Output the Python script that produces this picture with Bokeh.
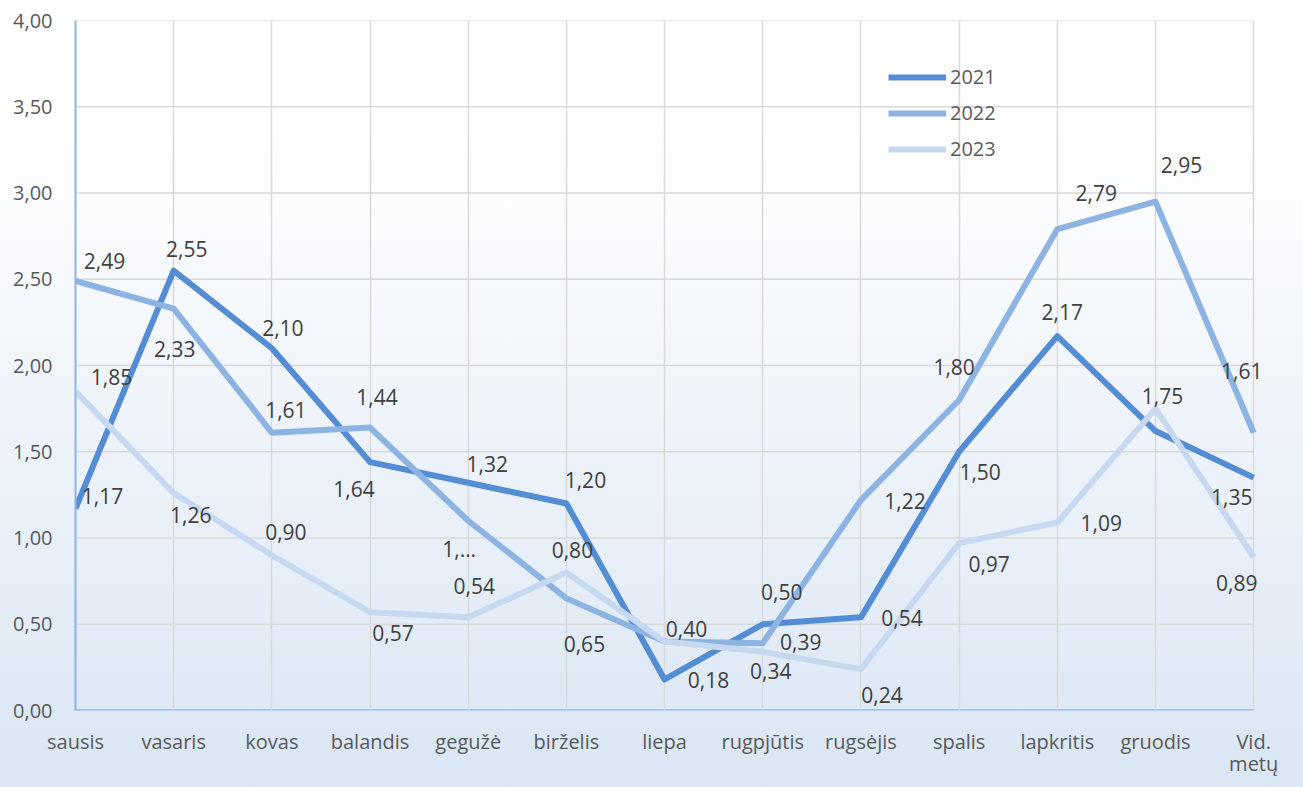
from bokeh.plotting import figure
from bokeh.models import (Range1d, FixedTicker, CustomJSTickFormatter, ColumnDataSource,
                          Legend, LegendItem, Label)
from bokeh.embed import file_html
from bokeh.resources import INLINE

# ---------------- data ----------------
months = ["sausis", "vasaris", "kovas", "balandis", "gegužė", "birželis", "liepa",
          "rugpjūtis", "rugsėjis", "spalis", "lapkritis", "gruodis", "Vid.\nmetų"]
series_names = ["2021", "2022", "2023"]
s2021 = [1.17, 2.55, 2.10, 1.44, 1.32, 1.20, 0.18, 0.50, 0.54, 1.50, 2.17, 1.62, 1.35]
s2022 = [2.49, 2.33, 1.61, 1.64, 1.10, 0.65, 0.40, 0.39, 1.22, 1.80, 2.79, 2.95, 1.61]
s2023 = [1.85, 1.26, 0.90, 0.57, 0.54, 0.80, 0.40, 0.34, 0.24, 0.97, 1.09, 1.75, 0.89]
lbl2021 = ["1,17", "2,55", "2,10", "1,44", "1,32", "1,20", "0,18", "0,50", "0,54", "1,50", "2,17", "", "1,35"]
lbl2022 = ["2,49", "2,33", "1,61", "1,64", "1,…", "0,65", "", "0,39", "1,22", "1,80", "2,79", "2,95", "1,61"]
lbl2023 = ["1,85", "1,26", "0,90", "0,57", "0,54", "0,80", "0,40", "0,34", "0,24", "0,97", "1,09", "1,75", "0,89"]
y_ticks = [0.0, 0.5, 1.0, 1.5, 2.0, 2.5, 3.0, 3.5, 4.0]

# ---------------- styles (label placement in screen px, +dy = downwards) ----------------
off2021 = [(27, -13), (13, -22), (11, -20), (7, -65), (19, -19), (19, -24), (44, 1),
           (19, -32), (41, 1), (21, 20), (5, -24), (0, 0), (-22, 19)]
off2022 = [(29, -20), (1, 40), (14, -23), (-16, 61), (-9, 28), (18, 46), (0, 0),
           (38, -1), (44, 1), (-5, -33), (39, -36), (26, -37), (-12, -62)]
off2023 = [(36, -14), (17, 22), (14, -23), (23, 21), (6, -31), (6, -23), (22, -13),
           (8, 19), (21, 26), (30, 21), (44, 1), (7, -13), (-17, 26)]
colors = ["#548dd4", "#8db3e2", "#c6d9f1"]
FONT = "Open Sans"
GRID = "#d9d9d9"
AXIS = "#8eb4e3"

xs = list(range(len(months)))
# a little extra room to the right of the last category so that labels are not cut off
p = figure(frame_width=1188, frame_height=690, output_backend="svg", toolbar_location=None,
           x_range=Range1d(xs[0], xs[-1] + 0.1), y_range=Range1d(y_ticks[0], y_ticks[-1]),
           min_border_left=75, min_border_right=40, min_border_top=20, min_border_bottom=77)
p.background_fill_color = None
p.border_fill_color = None
p.outline_line_color = None
p.styles = {"background": "linear-gradient(180deg, #ffffff 0%, #ffffff 16%, #dae6f4 100%)"}

p.xaxis.ticker = FixedTicker(ticks=xs)
p.xaxis.major_label_overrides = {i: m for i, m in enumerate(months)}
p.yaxis.ticker = FixedTicker(ticks=y_ticks)
p.yaxis.formatter = CustomJSTickFormatter(code="return tick.toFixed(2).replace('.', ',');")

for ax in (p.xaxis[0], p.yaxis[0]):
    ax.axis_line_color = AXIS
    ax.axis_line_width = 2
    ax.major_tick_line_color = None
    ax.minor_tick_line_color = None
    ax.major_label_text_font = FONT
    ax.major_label_text_font_size = "20px"
    ax.major_label_text_color = "#595959"
p.xaxis.axis_line_color = None
p.xaxis.major_label_standoff = 11
p.xaxis.major_label_text_line_height = 0.85
p.yaxis.major_label_standoff = 17

p.xgrid.grid_line_color = GRID
p.xgrid.grid_line_width = 1.5
p.ygrid.visible = False
# horizontal gridlines and the category axis line, spanning first..last category
p.segment(x0=xs[0], x1=xs[-1], y0=y_ticks[1:], y1=y_ticks[1:], line_color=GRID,
          line_width=1.5, level="underlay")
p.segment(x0=xs[0], x1=xs[-1], y0=y_ticks[0], y1=y_ticks[0], line_color=AXIS,
          line_width=2.5, level="underlay")

renderers = []
all_series = [s2021, s2022, s2023]
all_labels = [lbl2021, lbl2022, lbl2023]
all_offs = [off2021, off2022, off2023]
for vals, col in zip(all_series, colors):
    src = ColumnDataSource(dict(x=xs, y=vals))
    r = p.line("x", "y", source=src, line_color=col, line_width=6, line_join="round")
    renderers.append(r)

for vals, lbls, offs in zip(all_series, all_labels, all_offs):
    for x, v, t, (dx, dy) in zip(xs, vals, lbls, offs):
        if not t:
            continue
        p.add_layout(Label(x=x, y=v, text=t, x_offset=dx, y_offset=-dy,
                           text_font=FONT, text_font_size="21px", text_color="#404040",
                           text_align="center", text_baseline="middle"))

legend = Legend(items=[LegendItem(label=n, renderers=[r]) for n, r in zip(series_names, renderers)],
                location=(813, 548), orientation="vertical",
                glyph_width=58, glyph_height=20, label_height=20, label_standoff=4,
                spacing=9, padding=0, margin=0,
                border_line_color=None, background_fill_alpha=0,
                label_text_font=FONT, label_text_font_size="20px", label_text_color="#595959")
p.add_layout(legend)

open("out.html", "w").write(file_html(p, INLINE))
